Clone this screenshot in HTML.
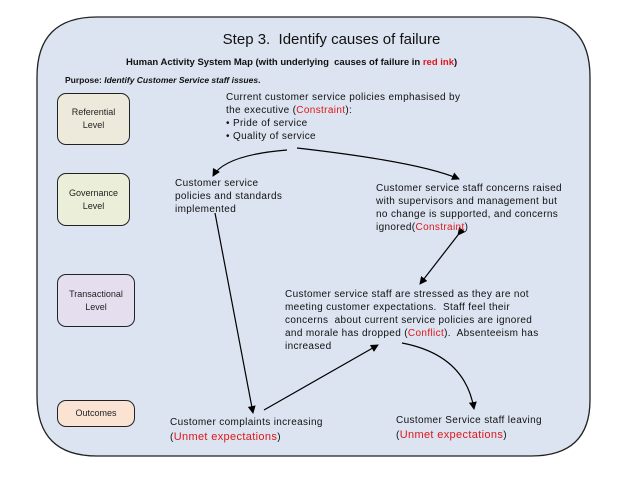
<!DOCTYPE html>
<html><head><style>
body{margin:0;width:638px;height:479px;background:#fff;position:relative;overflow:hidden;font-family:"Liberation Sans",sans-serif;}
.t{position:absolute;font-size:10px;line-height:13px;color:#111;white-space:nowrap;letter-spacing:0.35px;}
.r{color:#e0161b;}
.box{position:absolute;border:1px solid #222;border-radius:9px;font-size:9px;text-align:center;display:flex;align-items:center;justify-content:center;line-height:13px;color:#222;}
</style></head><body>
<svg width="638" height="479" style="position:absolute;left:0;top:0">
<defs><marker id="a" markerWidth="8" markerHeight="8" refX="7" refY="4" orient="auto" markerUnits="userSpaceOnUse"><path d="M0,0 L8,4 L0,8 z" fill="#000"/></marker></defs>
<path d="M97,17 H531 Q590,17 590,77 V400 Q590,456 531,456 H97 Q37,456 37,396 V77 Q37,17 97,17 Z" fill="#dbe4f0" stroke="#222" stroke-width="1.3"/>
<path d="M287,150 Q225,155 213,176" fill="none" stroke="#000" stroke-width="1.2" marker-end="url(#a)"/>
<path d="M297,148 Q420,162 459,179" fill="none" stroke="#000" stroke-width="1.2" marker-end="url(#a)"/>
<path d="M215,213 L253,413" stroke="#000" stroke-width="1.2" marker-end="url(#a)"/>
<path d="M264,410 L378,345" stroke="#000" stroke-width="1.2" marker-end="url(#a)"/>
<path d="M458,235 L420,284" stroke="#000" stroke-width="1.2" marker-start="url(#a)" marker-end="url(#a)"/>
<path d="M402,343 Q465,355 474,409" fill="none" stroke="#000" stroke-width="1.2" marker-end="url(#a)"/>
</svg>
<div class="t" style="left:0;width:638px;text-align:center;top:33px;font-size:15px;letter-spacing:0;">&nbsp;&nbsp;&nbsp;&nbsp;&nbsp;&nbsp;Step 3.&nbsp; Identify causes of failure</div>
<div class="t" style="left:126px;top:56px;font-size:9.5px;font-weight:bold;letter-spacing:0;">Human Activity System Map (with underlying&nbsp; causes of failure in <span class="r">red ink</span>)</div>
<div class="t" style="left:65px;top:74px;font-size:8.5px;font-weight:bold;letter-spacing:0;">Purpose: <i>Identify Customer Service staff issues</i>.</div>
<div class="box" style="left:57px;top:114px;width:71px;height:0;display:none"></div>
<div class="box" style="left:57px;top:114px;width:71px;height:0;display:none"></div>
<div class="box" style="left:57px;top:114px;width:0;height:0;display:none"></div>
<div class="box" style="left:57px;top:114px;width:71px;height:0;display:none"></div>
<div class="box" style="left:57px;top:114px;width:71px;height:0;display:none"></div>
<div class="box" style="left:57px;top:114px;width:71px;height:0;display:none"></div>
<div class="box" style="left:57px;top:114px;width:71px;height:0;display:none"></div>
<div class="box" style="left:57px;top:114px;width:71px;height:0;display:none"></div>
<div class="box" style="left:57px;top:114px;width:71px;height:0;display:none"></div>
<div class="box" style="left:57px;top:114px;width:71px;height:0;display:none"></div>
<div class="box" style="left:57px;top:114px;width:71px;height:0;display:none"></div>
<div class="box" style="left:57px;top:93px;width:71px;height:50px;background:#eeeadb;">Referential<br>Level</div>
<div class="box" style="left:57px;top:173px;width:71px;height:51px;background:#ebeed9;">Governance<br>Level</div>
<div class="box" style="left:57px;top:274px;width:76px;height:51px;background:#e4deee;">Transactional<br>Level</div>
<div class="box" style="left:57px;top:400px;width:76px;height:25px;background:#fae3d3;">Outcomes</div>
<div class="t" style="left:226px;top:91px;">Current customer service policies emphasised by<br>the executive (<span class="r">Constraint</span>):<br>• Pride of service<br>• Quality of service</div>
<div class="t" style="left:175px;top:177px;">Customer service<br>policies and standards<br>implemented</div>
<div class="t" style="left:376px;top:182px;">Customer service staff concerns raised<br>with supervisors and management but<br>no change is supported, and concerns<br>ignored(<span class="r">Constraint</span>)</div>
<div class="t" style="left:285px;top:288px;">Customer service staff are stressed as they are not<br>meeting customer expectations.&nbsp; Staff feel their<br>concerns&nbsp; about current service policies are ignored<br>and morale has dropped (<span class="r">Conflict</span>).&nbsp; Absenteeism has<br>increased</div>
<div class="t" style="left:170px;top:415px;line-height:15px;">Customer complaints increasing<br>(<span class="r" style="font-size:11px">Unmet expectations</span>)</div>
<div class="t" style="left:396px;top:413px;line-height:15px;">Customer Service staff leaving<br>(<span class="r" style="font-size:11px">Unmet expectations</span>)</div>
</body></html>
